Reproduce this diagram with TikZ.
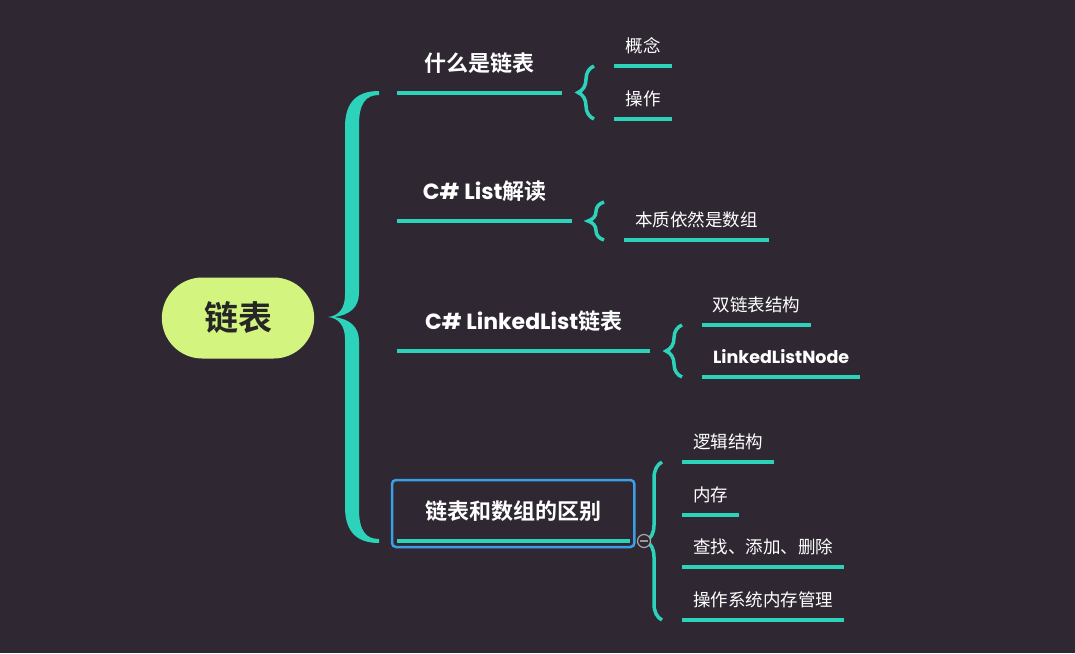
\documentclass[tikz,border=0pt]{standalone}
\usepackage{fontspec}
\setmainfont{Noto Sans CJK SC}[BoldFont={Noto Sans CJK SC Bold}]
\newfontfamily\latfont{Poppins}
\usetikzlibrary{shapes.misc,decorations.pathreplacing,calc}
\definecolor{bgcol}{RGB}{47,40,51}
\definecolor{tealline}{RGB}{44,210,186}
\definecolor{rootfill}{RGB}{211,245,128}
\definecolor{selblue}{RGB}{60,158,228}
\newcommand{\lat}[1]{{\latfont #1}}

\begin{document}
\begin{tikzpicture}[x=1pt,y=-1pt,
	root node/.style={rounded rectangle,fill=rootfill,text=black!85,minimum width=159pt,minimum height=81pt,font=\fontsize{34}{40}\selectfont\bfseries},
	main topic/.style={anchor=south west,text=white,inner xsep=0pt,inner ysep=17.5pt,text height=16pt,text depth=4pt,font=\fontsize{22}{26}\selectfont\bfseries,minimum width=#1},
	sub topic/.style={anchor=south west,text=white,inner xsep=0pt,inner ysep=9pt,text height=13pt,text depth=4pt,font=\fontsize{17.5}{21}\selectfont,minimum width=#1},
	uline/.style={draw=tealline,line width=4pt},
	brc/.style={draw=tealline,line width=3.5pt,decorate,decoration={brace,amplitude=16pt}},
	selbox/.style={draw=selblue,line width=2.5pt,rounded corners=4pt}]
	\useasboundingbox (0,0) rectangle (1075,653);
	\fill[bgcol] (0,0) rectangle (1075,653);

	\node[root node] (root) at (238,318) {链表};

	% main branches
	\node[main topic=165pt] (what) at (397,93) {什么是链表};
	\node[main topic=175pt] (list) at (397,221) {\lat{C\# List}解读};
	\node[main topic=253pt] (linked) at (397,351) {\lat{C\# LinkedList}链表};
	\node[main topic=233pt] (diff) at (397,541) {链表和数组的区别};

	% sub topics
	\node[sub topic=58pt] (concept) at (614,66) {概念};
	\node[sub topic=58pt] (oper) at (614,119) {操作};
	\node[sub topic=145pt] (essence) at (624,240) {本质依然是数组};
	\node[sub topic=109pt] (dbl) at (702,325) {双链表结构};
	\node[sub topic=158pt,font=\fontsize{17.5}{21}\selectfont\bfseries] (lnode) at (702,377) {\lat{LinkedListNode}};
	\node[sub topic=92pt] (logic) at (682,462) {逻辑结构};
	\node[sub topic=57pt] (mem) at (682,515) {内存};
	\node[sub topic=162pt] (find) at (682,567) {查找、添加、删除};
	\node[sub topic=162pt] (osmem) at (682,620) {操作系统内存管理};

	% underlines
	\foreach \n in {what,list,linked,diff,concept,oper,essence,dbl,lnode,logic,mem,find,osmem}
		\draw[uline] (\n.south west) -- (\n.south east);

	\draw[selbox] ([shift={(-5,6)}]diff.south west) rectangle ([shift={(4,-61)}]diff.south east);

	% big brace, tapered
	\coordinate (bigmid) at ($([xshift=-19pt]what.south west)!0.5!([xshift=-19pt]diff.south west)$);
	\begin{scope}[shift={(bigmid)}]
		\fill[tealline] (1,-226) .. controls (-20,-226) and (-33,-216) .. (-33,-190) -- (-33,-22)
			.. controls (-33,-8) and (-40,-1) .. (-50,0) .. controls (-40,1) and (-33,8) .. (-33,22)
			-- (-33,190) .. controls (-33,216) and (-20,226) .. (1,226) -- (1,222)
			.. controls (-12,222) and (-19,214) .. (-19,192) -- (-19,24)
			.. controls (-19,10) and (-28,2) .. (-44,0) .. controls (-28,-2) and (-19,-10) .. (-19,-24)
			-- (-19,-192) .. controls (-19,-214) and (-12,-222) .. (1,-222) -- cycle;
	\end{scope}

	% small braces
	\draw[brc] ([xshift=-20pt]oper.south west) -- ([xshift=-20pt]concept.south west);
	\coordinate (esstop) at ($(essence.south west)+(-20,-38)$);
	\draw[brc] ([xshift=-20pt]essence.south west) -- (esstop);
	\draw[brc] ([xshift=-20pt]lnode.south west) -- ([xshift=-20pt]dbl.south west);
	\draw[brc] ([xshift=-20pt]osmem.south west) -- ([xshift=-20pt]logic.south west);

	% collapse button
	\node[circle,draw=gray!70,fill=bgcol,line width=1.2pt,minimum size=13pt,inner sep=0pt] (fold) at (644,541) {};
	\draw[gray!80,line width=1.2pt] ([xshift=-4pt]fold.center) -- ([xshift=4pt]fold.center);
\end{tikzpicture}
\end{document}
